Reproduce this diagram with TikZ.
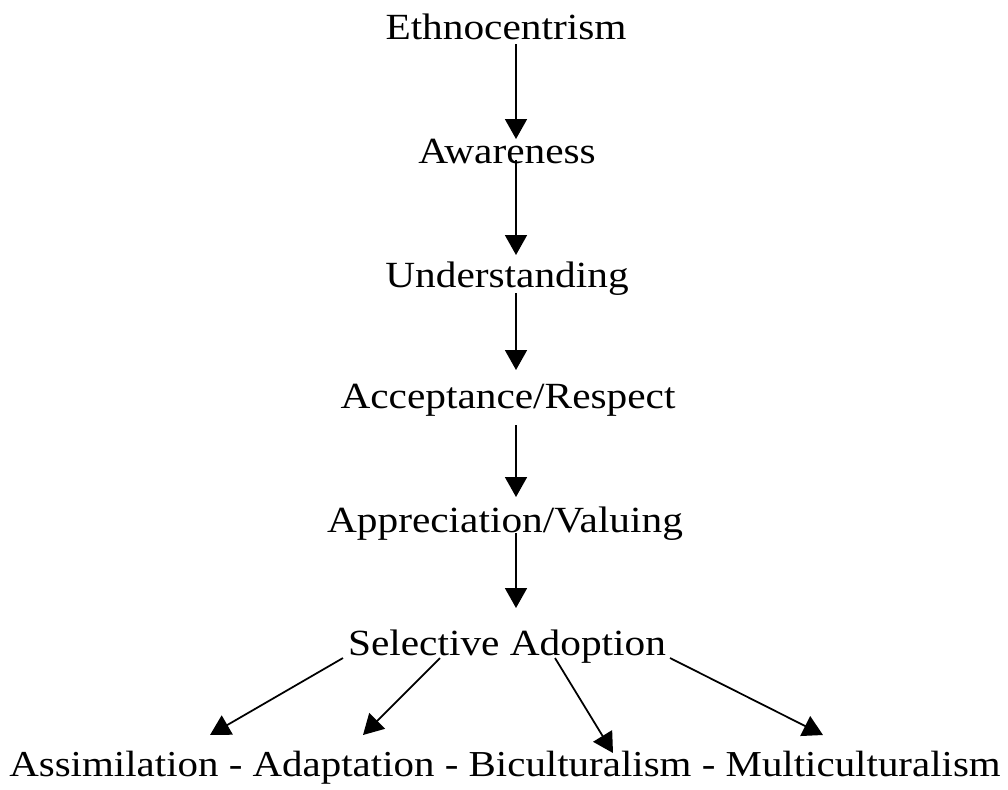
\documentclass[tikz,border=0pt]{standalone}
\usepackage{fontspec}
\setmainfont{Liberation Serif}[FakeStretch=1.12]
\usetikzlibrary{arrows.meta}

\begin{document}
\begin{tikzpicture}[
  x=0.02cm, y=-0.02cm,
  stage/.style={font=\fontsize{21}{25}\selectfont, inner sep=0pt, anchor=base},
  flow/.style={-{Triangle[length=4mm, width=4.4mm]}, line width=1pt}
]
  \useasboundingbox (0,0) rectangle (1008,789);

  \node[stage] (ethno)  at (506,39)  {Ethnocentrism};
  \node[stage] (aware)  at (507,163) {Awareness};
  \node[stage] (under)  at (507,287) {Understanding};
  \node[stage] (accept) at (508,408) {Acceptance/Respect};
  \node[stage] (apprec) at (505,532) {Appreciation/Valuing};
  \node[stage] (select) at (507,655) {Selective Adoption};
  \node[stage, font=\fontsize{20.8}{25}\selectfont] (modes) at (505,776) {Assimilation - Adaptation - Biculturalism - Multiculturalism};

  % arrow ends
  \coordinate (e1) at (516,44);  \coordinate (a1) at (516,139);
  \coordinate (e2) at (516,160); \coordinate (a2) at (516,255);
  \coordinate (e3) at (516,293); \coordinate (a3) at (516,370);
  \coordinate (e4) at (516,425); \coordinate (a4) at (516,497);
  \coordinate (e5) at (516,533); \coordinate (a5) at (516,608);

  \coordinate (s1) at (343,658); \coordinate (m1) at (210,735);
  \coordinate (s2) at (440,658); \coordinate (m2) at (363,735);
  \coordinate (s3) at (555,658); \coordinate (m3) at (613,753);
  \coordinate (s4) at (670,658); \coordinate (m4) at (823,735);

  \foreach \i in {1,...,5}
    \draw[flow] (e\i) -- (a\i);
  \foreach \i in {1,...,4}
    \draw[flow] (s\i) -- (m\i);
\end{tikzpicture}
\end{document}
